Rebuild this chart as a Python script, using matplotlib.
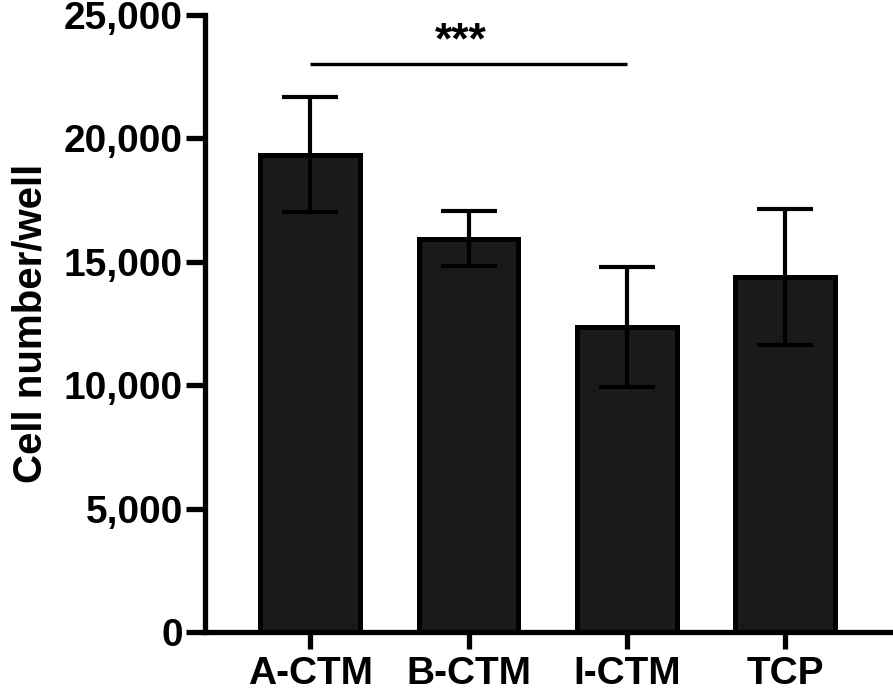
import matplotlib
matplotlib.use("Agg")
import matplotlib.pyplot as plt
from matplotlib.ticker import FuncFormatter

# data
groups = ["A-CTM", "B-CTM", "I-CTM", "TCP"]
means = [19330, 15930, 12350, 14380]
sds = [2330, 1120, 2420, 2740]
sig_pair = (0, 2)
sig_label = "***"
sig_y = 23000

plt.rcParams["font.family"] = ["Liberation Sans", "DejaVu Sans"]
plt.rcParams["font.weight"] = "bold"

fig = plt.figure(figsize=(8.93, 6.97), dpi=100)
ax = fig.add_axes([0.2296, 0.0933, 0.7704, 0.8852])

x = list(range(len(groups)))
ax.bar(x, means, width=0.63, color="#1a1a1a", edgecolor="black",
       linewidth=3.6, zorder=2)
ax.errorbar(x, means, yerr=sds, fmt="none", ecolor="black", elinewidth=3,
            capsize=20, capthick=3, zorder=3)

# significance bracket
ax.plot([sig_pair[0], sig_pair[1]], [sig_y, sig_y], color="black", lw=2.4,
        solid_capstyle="butt", zorder=3)
ax.text(0.95, 23900, sig_label, ha="center", va="center", fontsize=32,
        fontweight="bold", clip_on=False)

ax.set_xlim(-0.664, 3.68)
ax.set_ylim(0, 25000)
ax.set_yticks([0, 5000, 10000, 15000, 20000, 25000])
ax.yaxis.set_major_formatter(FuncFormatter(lambda v, p: "{:,}".format(int(v))))
ax.set_xticks(x)
ax.set_xticklabels(groups)
ax.set_ylabel("Cell number/well", fontsize=29, fontweight="bold", labelpad=10)

for side in ["top", "right"]:
    ax.spines[side].set_visible(False)
for side in ["left", "bottom"]:
    ax.spines[side].set_linewidth(3.8)

ax.tick_params(axis="y", length=14, width=3.8, pad=2, labelsize=28)
ax.tick_params(axis="x", length=12, width=3.8, pad=5, labelsize=28)
for lab in ax.get_xticklabels() + ax.get_yticklabels():
    lab.set_fontweight("bold")

fig.savefig("out.png", dpi=100)
